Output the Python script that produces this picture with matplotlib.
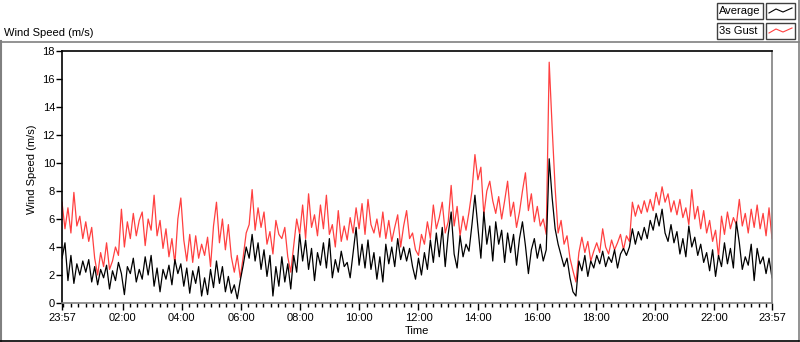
import numpy as np
import matplotlib
matplotlib.use("Agg")
import matplotlib.pyplot as plt
from matplotlib.patches import Rectangle
from matplotlib.lines import Line2D

# wind data, one sample every ~6 min from 23:57 to 23:57 next day (m/s)
gust = [
    7.2, 5.3, 6.8, 5.0, 7.9, 5.5, 6.2, 4.6, 5.8, 4.4, 5.4, 3.2, 2.0, 3.6, 2.6, 4.3,
    2.4, 3.0, 4.0, 3.4, 6.7, 4.0, 5.8, 4.6, 6.4, 4.8, 5.9, 6.5, 4.1, 6.0, 5.2, 7.7,
    4.8, 5.9, 3.9, 5.3, 3.3, 4.6, 2.8, 6.0, 7.5, 4.5, 3.0, 4.9, 2.9, 4.8, 3.2, 4.2,
    3.4, 4.7, 2.6, 5.5, 7.2, 4.3, 6.0, 3.8, 5.6, 3.3, 2.2, 3.4, 1.8, 3.3, 5.0, 5.6,
    8.1, 5.2, 6.8, 5.4, 6.5, 4.2, 5.1, 3.5, 5.9, 4.9, 4.6, 5.4, 3.3, 2.2, 4.1, 6.0,
    4.9, 7.0, 4.6, 7.8, 5.4, 6.3, 4.8, 7.0, 5.3, 7.7, 4.9, 5.6, 4.0, 6.6, 4.4, 5.5,
    4.5, 6.1, 5.0, 6.8, 5.3, 7.1, 4.9, 7.4, 5.6, 5.0, 6.0, 4.7, 6.5, 4.6, 5.9, 4.4,
    5.4, 6.3, 4.0, 5.5, 6.6, 4.6, 5.0, 3.8, 3.4, 4.9, 4.2, 5.8, 4.6, 7.0, 5.3, 6.1,
    7.2, 5.0, 5.8, 8.4, 5.5, 6.9, 4.8, 6.2, 5.2, 6.5, 8.0, 10.6, 8.8, 9.7, 6.3, 8.0,
    8.7, 7.3, 6.4, 7.6, 6.0, 7.3, 8.7, 6.2, 7.2, 5.4, 6.5, 8.0, 9.3, 6.6, 7.8, 5.8,
    6.9, 5.5, 6.0, 4.9, 17.2, 12.5, 8.2, 5.0, 5.9, 4.2, 4.8, 3.2, 2.3, 1.5, 3.6, 4.7,
    3.6, 4.4, 3.0, 3.7, 4.3, 3.6, 5.3, 4.0, 3.5, 4.5, 3.8, 4.3, 4.9, 3.8, 4.8, 4.4,
    7.2, 6.2, 7.0, 6.4, 7.3, 6.5, 7.4, 6.6, 7.9, 7.0, 8.3, 7.2, 7.8, 6.5, 7.3, 6.3,
    7.4, 6.1, 6.8, 5.6, 8.1, 6.0, 6.9, 5.3, 6.6, 5.0, 5.9, 4.4, 5.2, 3.3, 6.2, 4.9,
    6.5, 5.3, 6.1, 5.6, 7.4, 5.5, 6.4, 5.0, 6.7, 5.4, 7.0, 5.3, 6.4, 4.8, 6.8, 4.6,
]
average = [
    3.2, 4.3, 1.6, 3.4, 1.4, 2.8, 2.0, 3.0, 2.2, 3.1, 1.5, 2.6, 1.3, 2.4, 1.8, 2.7,
    1.0, 2.3, 1.6, 2.9, 2.1, 0.6, 2.6, 2.1, 3.2, 1.5, 2.4, 1.7, 3.3, 2.0, 3.4, 1.2,
    2.5, 0.8, 2.4, 1.7, 2.7, 1.3, 3.1, 2.1, 2.8, 1.2, 2.5, 0.7, 2.3, 1.4, 2.6, 0.5,
    1.8, 0.6, 2.4, 1.1, 3.0, 1.4, 2.6, 0.8, 1.9, 0.7, 1.3, 0.3, 1.6, 2.7, 4.0, 3.2,
    4.9, 3.0, 4.3, 2.4, 3.8, 1.9, 3.4, 0.5, 2.6, 1.2, 3.3, 1.5, 2.8, 1.0, 3.4, 2.2,
    4.9, 3.0, 4.5, 2.4, 3.9, 1.6, 3.6, 2.7, 4.3, 2.5, 4.6, 1.8, 3.1, 2.2, 3.7, 2.6,
    2.9, 1.8, 3.6, 5.4, 2.7, 4.2, 2.5, 4.5, 2.4, 3.6, 1.7, 3.3, 1.5, 4.2, 2.8, 4.0,
    2.6, 4.6, 3.1, 4.0, 3.0, 3.9, 2.6, 1.7, 3.2, 2.0, 3.6, 2.4, 4.5, 2.9, 5.0, 3.3,
    5.4, 2.6, 4.9, 6.5, 3.5, 2.5, 4.8, 3.3, 4.2, 3.7, 5.6, 7.7, 5.4, 3.2, 6.5, 4.2,
    5.5, 3.0, 5.8, 4.2, 5.2, 2.9, 5.0, 3.6, 4.9, 2.7, 4.6, 5.8, 4.1, 2.1, 3.8, 4.6,
    3.2, 4.2, 3.0, 3.8, 10.3, 7.5, 5.3, 4.2, 3.4, 2.6, 3.2, 1.8, 0.8, 0.5, 3.0, 2.3,
    3.4, 1.9, 3.0, 2.5, 3.4, 2.8, 3.7, 2.6, 3.3, 2.9, 3.8, 2.5, 3.5, 3.9, 3.4, 4.0,
    5.3, 4.2, 5.1, 4.5, 5.4, 4.6, 5.9, 5.2, 6.4, 5.5, 6.7, 5.0, 4.4, 5.6, 4.3, 5.1,
    3.5, 4.6, 3.3, 5.5, 4.0, 4.7, 3.4, 4.2, 2.9, 3.6, 2.3, 3.8, 1.9, 3.4, 2.6, 4.3,
    2.8, 3.9, 2.5, 5.8, 4.3, 2.4, 3.3, 2.7, 4.2, 1.6, 3.9, 2.8, 3.3, 2.1, 3.2, 1.8,
]
tick_labels = ["23:57", "02:00", "04:00", "06:00", "08:00", "10:00", "12:00",
               "14:00", "16:00", "18:00", "20:00", "22:00", "23:57"]

W, H = 800, 342
RED = "#ff4040"
GRAY = "#808080"
FONT = "Liberation Sans"


def fx(px):
    return px / W


def fy(py):
    return 1 - py / H


hours = np.linspace(0, 24, len(gust))  # hours since 23:57

fig = plt.figure(figsize=(W / 100, H / 100), dpi=100)
fig.patch.set_facecolor("white")

# outer frame
fig.add_artist(Line2D([fx(0.5), fx(0.5)], [fy(41), fy(341)], color=GRAY, lw=1.5))
fig.add_artist(Line2D([fx(0), fx(799)], [fy(41.5), fy(41.5)], color=GRAY, lw=1.2))
fig.add_artist(Line2D([fx(798.5), fx(798.5)], [fy(0), fy(341)], color=GRAY, lw=1.2))
fig.add_artist(Line2D([fx(0), fx(799)], [fy(340.5), fy(340.5)], color="black", lw=1.2))

ax = fig.add_axes([fx(62), fy(303), fx(772) - fx(62), fy(51) - fy(303)])
ax.plot(hours, gust, color=RED, lw=0.9)
ax.plot(hours, average, color="black", lw=0.9)
ax.set_xlim(0, 24)
ax.set_ylim(0, 18)

for s in ["left", "top"]:
    ax.spines[s].set_color("black")
for s in ["right", "bottom"]:
    ax.spines[s].set_color(GRAY)
for s in ax.spines.values():
    s.set_linewidth(1.2)

ax.set_yticks(np.arange(0, 19, 2))
ax.set_yticklabels([str(v) for v in range(0, 19, 2)], fontsize=8, family=FONT)
ax.tick_params(axis="y", direction="out", length=4, width=1, pad=1)

major = [0] + [2.05 + 2 * k for k in range(11)] + [24]
ax.set_xticks(major)
ax.set_xticklabels(tick_labels, fontsize=8, family=FONT)
ax.set_xticks([0.05 + 0.25 * k for k in range(96)], minor=True)
ax.tick_params(axis="x", which="major", direction="out", length=5, width=1, pad=2)
ax.tick_params(axis="x", which="minor", direction="out", length=3, width=1)

fig.text(fx(32), fy(169), "Wind Speed (m/s)", rotation=90, ha="center",
         va="center", fontsize=8, family=FONT)
fig.text(fx(417), fy(331), "Time", ha="center", va="center", fontsize=8, family=FONT)
fig.text(fx(4), fy(33), "Wind Speed (m/s)", ha="left", va="center", fontsize=8, family=FONT)

# legend boxes
for row, (name, col) in enumerate([("Average", "black"), ("3s Gust", RED)]):
    top = 3 + row * 20
    fig.add_artist(Rectangle((fx(717), fy(top + 16)), fx(46), fy(0) - fy(16),
                             fill=False, edgecolor="#404040", lw=1))
    fig.add_artist(Rectangle((fx(766), fy(top + 16)), fx(29), fy(0) - fy(16),
                             fill=False, edgecolor="#404040", lw=1))
    fig.text(fx(719), fy(top + 8.5), name, ha="left", va="center", fontsize=8, family=FONT)
    xs = [769, 776, 783, 792]
    ys = [top + 10, top + 6, top + 9, top + 5]
    fig.add_artist(Line2D([fx(v) for v in xs], [fy(v) for v in ys], color=col, lw=0.8))

fig.savefig("out.png", dpi=100)
